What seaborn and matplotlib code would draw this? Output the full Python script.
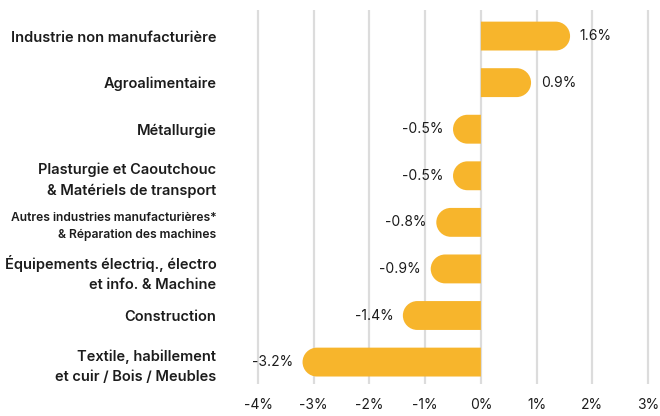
import numpy as np
import pandas as pd
import seaborn as sns
import matplotlib.pyplot as plt
from matplotlib.patches import PathPatch
from matplotlib.path import Path
from matplotlib.transforms import IdentityTransform

# Data
categories = [
    "Industrie non manufacturière",
    "Agroalimentaire",
    "Métallurgie",
    "Plasturgie et Caoutchouc\n& Matériels de transport",
    "Autres industries manufacturières*\n& Réparation des machines",
    "Équipements électriq., électro\net info. & Machine",
    "Construction",
    "Textile, habillement\net cuir / Bois / Meubles",
]
values = [1.6, 0.9, -0.5, -0.5, -0.8, -0.9, -1.4, -3.2]
x_ticks = [-4, -3, -2, -1, 0, 1, 2, 3]

bar_color = "#F7B52C"
text_color = "#1c1c1c"

sns.set_style("white")
plt.rcParams["font.family"] = ["Inter", "DejaVu Sans"]

df = pd.DataFrame({"cat": categories, "val": values})

fig = plt.figure(figsize=(6.6, 4.16), dpi=100)
ax = fig.add_axes([0.3824, 0.077, 0.608, 0.899])

sns.barplot(data=df, y="cat", x="val", orient="h", color=bar_color,
            width=0.62, saturation=1, ax=ax)

ax.set_xlim(-4.1, 3.1)
ax.set_ylim(7.47, -0.56)
ax.set_xticks(x_ticks)
ax.set_xticklabels([f"{t}%" for t in x_ticks])
ax.set_xlabel("")
ax.set_ylabel("")

ax.grid(axis="x", color="#dcdcdc", linewidth=1.6)
ax.grid(axis="y", visible=False)
ax.set_axisbelow(True)
sns.despine(ax=ax, left=True, bottom=True)
ax.tick_params(axis="both", length=0)
ax.tick_params(axis="x", pad=10, labelsize=10, labelcolor=text_color)
ax.tick_params(axis="y", pad=26, labelsize=10.5, labelcolor=text_color)

for lab in ax.get_yticklabels():
    lab.set_fontweight("semibold")
    lab.set_multialignment("right")
    lab.set_linespacing(1.55)
    if lab.get_text().startswith("Autres"):
        lab.set_fontsize(8.7)

# redraw each bar with a rounded outer end (geometry taken from seaborn's bars)
fig.canvas.draw()
k = 0.5523
for patch in list(ax.patches):
    ext = patch.get_window_extent()
    x0, x1, y0, y1 = ext.x0, ext.x1, ext.y0, ext.y1
    r = min((y1 - y0) / 2, x1 - x0)
    cy = (y0 + y1) / 2
    s = 1 if patch.get_width() >= 0 else -1
    outer, inner = (x1, x0) if s > 0 else (x0, x1)
    cx = outer - s * r
    verts = [(inner, y0), (cx, y0),
             (cx + s * k * r, y0), (outer, cy - k * r), (outer, cy),
             (outer, cy + k * r), (cx + s * k * r, y1), (cx, y1),
             (inner, y1), (inner, y0)]
    codes = [Path.MOVETO, Path.LINETO,
             Path.CURVE4, Path.CURVE4, Path.CURVE4,
             Path.CURVE4, Path.CURVE4, Path.CURVE4,
             Path.LINETO, Path.CLOSEPOLY]
    pp = PathPatch(Path(verts, codes), transform=IdentityTransform(),
                   facecolor=bar_color, edgecolor="none", zorder=2)
    ax.add_patch(pp)
    patch.set_visible(False)

# value labels
for i, v in enumerate(values):
    off = 7 if v >= 0 else -7
    ax.annotate(f"{v:.1f}%", (v, i), xytext=(off, 0), textcoords="offset points",
                ha="left" if v >= 0 else "right", va="center",
                fontsize=10, color=text_color)

fig.savefig("out.png", dpi=100)
